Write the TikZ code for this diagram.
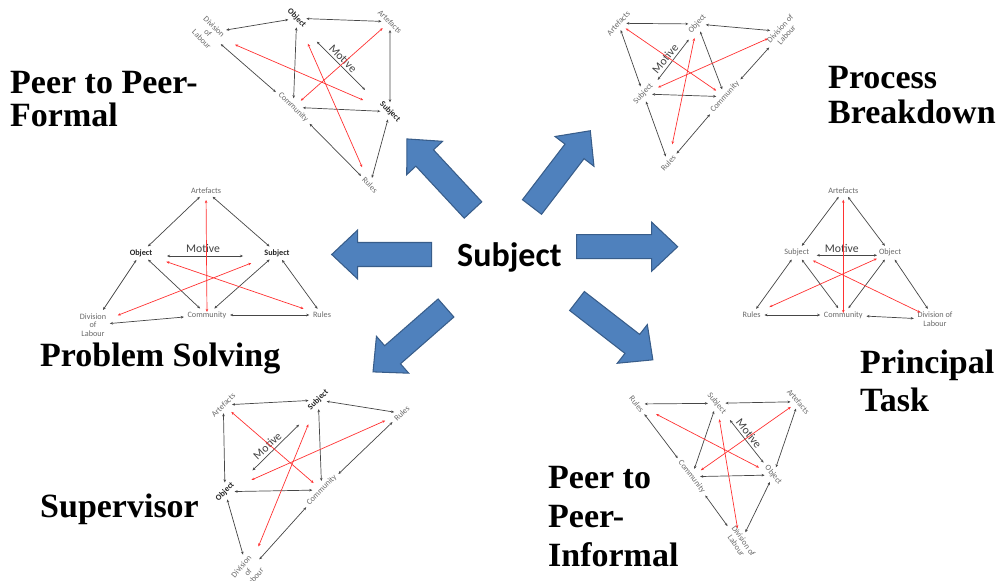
\documentclass[tikz,border=0pt]{standalone}
\usepackage{fontspec}
\setmainfont{Liberation Serif}
\newfontfamily\labelfont{Carlito}
\usetikzlibrary{arrows.meta}
\definecolor{arrowblue}{RGB}{79,129,189}
\definecolor{arrowedge}{RGB}{56,93,138}
\definecolor{linegray}{RGB}{70,70,70}
\definecolor{labgray}{RGB}{105,105,105}
\definecolor{motred}{RGB}{255,50,50}
\tikzset{
  lab/.style={font={\labelfont\fontsize{7}{7.5}\selectfont}, text=labgray, inner sep=1pt, align=center},
  labb/.style={lab, font={\labelfont\bfseries\fontsize{7}{7.5}\selectfont}, text=black!85},
  motive/.style={font={\labelfont\fontsize{10}{10}\selectfont}, text=black!75, inner sep=0pt},
  triline/.style={linegray, line width=0.6pt, {Stealth[length=2.6pt,width=2.2pt]}-{Stealth[length=2.6pt,width=2.2pt]}, shorten <=2pt, shorten >=2pt},
  redarr/.style={motred, line width=0.6pt, {Stealth[length=2.6pt,width=2.2pt]}-{Stealth[length=2.6pt,width=2.2pt]}},
  bigarrow/.style={fill=arrowblue, draw=arrowedge, line width=0.9pt, line join=miter},
  bigtitle/.style={inner sep=0pt, align=left, anchor=base west},
}
\begin{document}
\begin{tikzpicture}[x=0.03cm, y=0.03cm]
\useasboundingbox (0,0) rectangle (999,580);

\node[font={\labelfont\bfseries\fontsize{29}{29}\selectfont}, inner sep=0pt, anchor=base west] (subj) at (457,313.3) {Subject};

\foreach \px/\py/\ang/\len in {431.7/325.5/180/100, 576.7/333.3/0/101, 473/370/132.9/97, 532/373/52.6/96, 446/272/221.2/97, 577/279/-37.8/96}
  \draw[bigarrow, shift={(\px,\py)}, rotate=\ang] (0,-12) -- (\len-26,-12) -- (\len-26,-24.5) -- (\len,0) -- (\len-26,24.5) -- (\len-26,12) -- (0,12) -- cycle;

\node[bigtitle, font={\bfseries\fontsize{29}{28.5}\selectfont}] (pfT) at (10,453.3) {Peer to Peer-\\Formal};
\node[bigtitle, font={\bfseries\fontsize{29}{30.7}\selectfont}] (pbT) at (828,456) {Process\\Breakdown};
\node[bigtitle, font={\bfseries\fontsize{29}{29}\selectfont}] (psT) at (40,213) {Problem Solving};
\node[bigtitle, font={\bfseries\fontsize{29}{33}\selectfont}] (ptT) at (860,168.3) {Principal\\Task};
\node[bigtitle, font={\bfseries\fontsize{29}{33.5}\selectfont}] (inT) at (548,13.3) {Peer to\\Peer-\\Informal};
\node[bigtitle, font={\bfseries\fontsize{29}{29}\selectfont}] (svT) at (40,63) {Supervisor};

\node[lab] (psA) at (206,389) {Artefacts};
\node[labb] (psO) at (141,327) {Object};
\node[labb] (psS) at (277,327) {Subject};
\node[lab] (psD) at (93,255) {Division\\of\\Labour};
\node[lab] (psC) at (207,265) {Community};
\node[lab] (psR) at (322,265) {Rules};
\node[motive] (psM) at (203,332) {Motive};

\node[lab] (ptA) at (843.3,389.3) {Artefacts};
\node[lab] (ptS) at (796.7,327.3) {Subject};
\node[lab] (ptO) at (890,327.3) {Object};
\node[lab] (ptR) at (751.7,265) {Rules};
\node[lab] (ptC) at (843.3,265) {Community};
\node[lab] (ptD) at (935,260.5) {Division of\\Labour};
\node[motive] (ptM) at (841.7,331.5) {Motive};

\node[lab, rotate=-45] (pfD) at (208,547) {Division\\of\\Labour};
\node[labb, rotate=-45] (pfO) at (296.7,561.7) {Object};
\node[lab, rotate=-45] (pfA) at (390,558.3) {Artefacts};
\node[lab, rotate=-45] (pfC) at (293.3,472.7) {Community};
\node[labb, rotate=-45] (pfS) at (390,468.3) {Subject};
\node[lab, rotate=-45] (pfR) at (370,395) {Rules};
\node[motive, rotate=-45] (pfM) at (343.1,521.4) {Motive};

\node[lab, rotate=48] (pbA) at (618.3,556.7) {Artefacts};
\node[lab, rotate=48] (pbO) at (697.3,556) {Object};
\node[lab, rotate=48] (pbD) at (783.3,548.3) {Division of\\Labour};
\node[lab, rotate=48] (pbS) at (643.3,486) {Subject};
\node[lab, rotate=48] (pbC) at (725,483.3) {Community};
\node[lab, rotate=48] (pbR) at (668.3,416.7) {Rules};
\node[motive, rotate=50] (pbM) at (665.1,521.2) {Motive};

\node[lab, rotate=45] (svA) at (223.3,175) {Artefacts};
\node[labb, rotate=45] (svS) at (318.3,180) {Subject};
\node[lab, rotate=45] (svR) at (401.7,166.7) {Rules};
\node[labb, rotate=45] (svO) at (225,88.3) {Object};
\node[lab, rotate=45] (svC) at (321.7,90) {Community};
\node[lab, rotate=50] (svD) at (248,8) {Division\\of\\Labour};
\node[motive, rotate=43] (svM) at (267.3,134.4) {Motive};

\node[lab, rotate=-50] (inR) at (636.7,176) {Rules};
\node[lab, rotate=-50] (inS) at (716.7,176.7) {Subject};
\node[lab, rotate=-50] (inA) at (798.3,178.3) {Artefacts};
\node[lab, rotate=-52] (inC) at (691.7,103.3) {Community};
\node[lab, rotate=-50] (inO) at (773.3,105) {Object};
\node[lab, rotate=-55] (inD) at (740,36.7) {Division of\\Labour};
\node[motive, rotate=-52] (inM) at (749,146.9) {Motive};

\foreach \tri in {ps,pt,pf,pb,sv,in} {
  \draw[triline] (\tri A) -- (\tri O);
  \draw[triline] (\tri A) -- (\tri S);
  \draw[triline] (\tri O) -- (\tri D);
  \draw[triline] (\tri O) -- (\tri C);
  \draw[triline] (\tri S) -- (\tri C);
  \draw[triline] (\tri S) -- (\tri R);
  \draw[triline] (\tri D) -- (\tri C);
  \draw[triline] (\tri C) -- (\tri R);
}

\draw[triline, shorten <=22.2pt, shorten >=29pt, transform canvas={shift={(0,-3)}}] (psO.center) -- (psS.center);
\draw[redarr, shorten <=7.7pt, shorten >=2.6pt] (psA.center) -- (psC.center);
\draw[redarr, shorten <=22.8pt, shorten >=16.6pt] (psO.center) -- (psR.center);
\draw[redarr, shorten <=23.6pt, shorten >=22.7pt] (psS.center) -- (psD.center);

\draw[triline, shorten <=17.1pt, shorten >=11.1pt, transform canvas={shift={(0,-2.6)}}] (ptS.center) -- (ptO.center);
\draw[redarr, shorten <=7.7pt, shorten >=1.7pt] (ptA.center) -- (ptC.center);
\draw[redarr, shorten <=15.3pt, shorten >=13.8pt] (ptS.center) -- (ptD.center);
\draw[redarr, shorten <=12.3pt, shorten >=16.6pt] (ptO.center) -- (ptR.center);

\draw[triline, shorten <=26.3pt, shorten >=28.2pt, transform canvas={shift={(-1.6,-1.6)}}] (pfO.center) -- (pfS.center);
\draw[redarr, shorten <=25.2pt, shorten >=24.9pt] (pfD.center) -- (pfS.center);
\draw[redarr, shorten <=8.3pt, shorten >=8.5pt] (pfA.center) -- (pfC.center);
\draw[redarr, shorten <=23.7pt, shorten >=16.6pt] (pfO.center) -- (pfR.center);

\draw[triline, shorten <=15pt, shorten >=17pt, transform canvas={shift={(2.2,-1.7)}}] (pbO.center) -- (pbS.center);
\draw[redarr, shorten <=7.7pt, shorten >=9.1pt] (pbA.center) -- (pbC.center);
\draw[redarr, shorten <=13.7pt, shorten >=14.4pt] (pbS.center) -- (pbD.center);
\draw[redarr, shorten <=12.2pt, shorten >=16.6pt] (pbO.center) -- (pbR.center);

\draw[triline, shorten <=29.4pt, shorten >=26.5pt, transform canvas={shift={(2.9,-2.9)}}] (svO.center) -- (svS.center);
\draw[redarr, shorten <=9pt, shorten >=9.1pt] (svA.center) -- (svC.center);
\draw[redarr, shorten <=24.7pt, shorten >=15.4pt] (svO.center) -- (svR.center);
\draw[redarr, shorten <=22.4pt, shorten >=23.6pt] (svS.center) -- (svD.center);

\draw[triline, shorten <=18.2pt, shorten >=13.4pt] (inS.center) -- (inO.center);
\draw[redarr, shorten <=18.7pt, shorten >=13.7pt] (inR.center) -- (inO.center);
\draw[redarr, shorten <=7.8pt, shorten >=9.5pt] (inA.center) -- (inC.center);
\draw[redarr, shorten <=13.8pt, shorten >=13.1pt] (inS.center) -- (inD.center);
\end{tikzpicture}
\end{document}
